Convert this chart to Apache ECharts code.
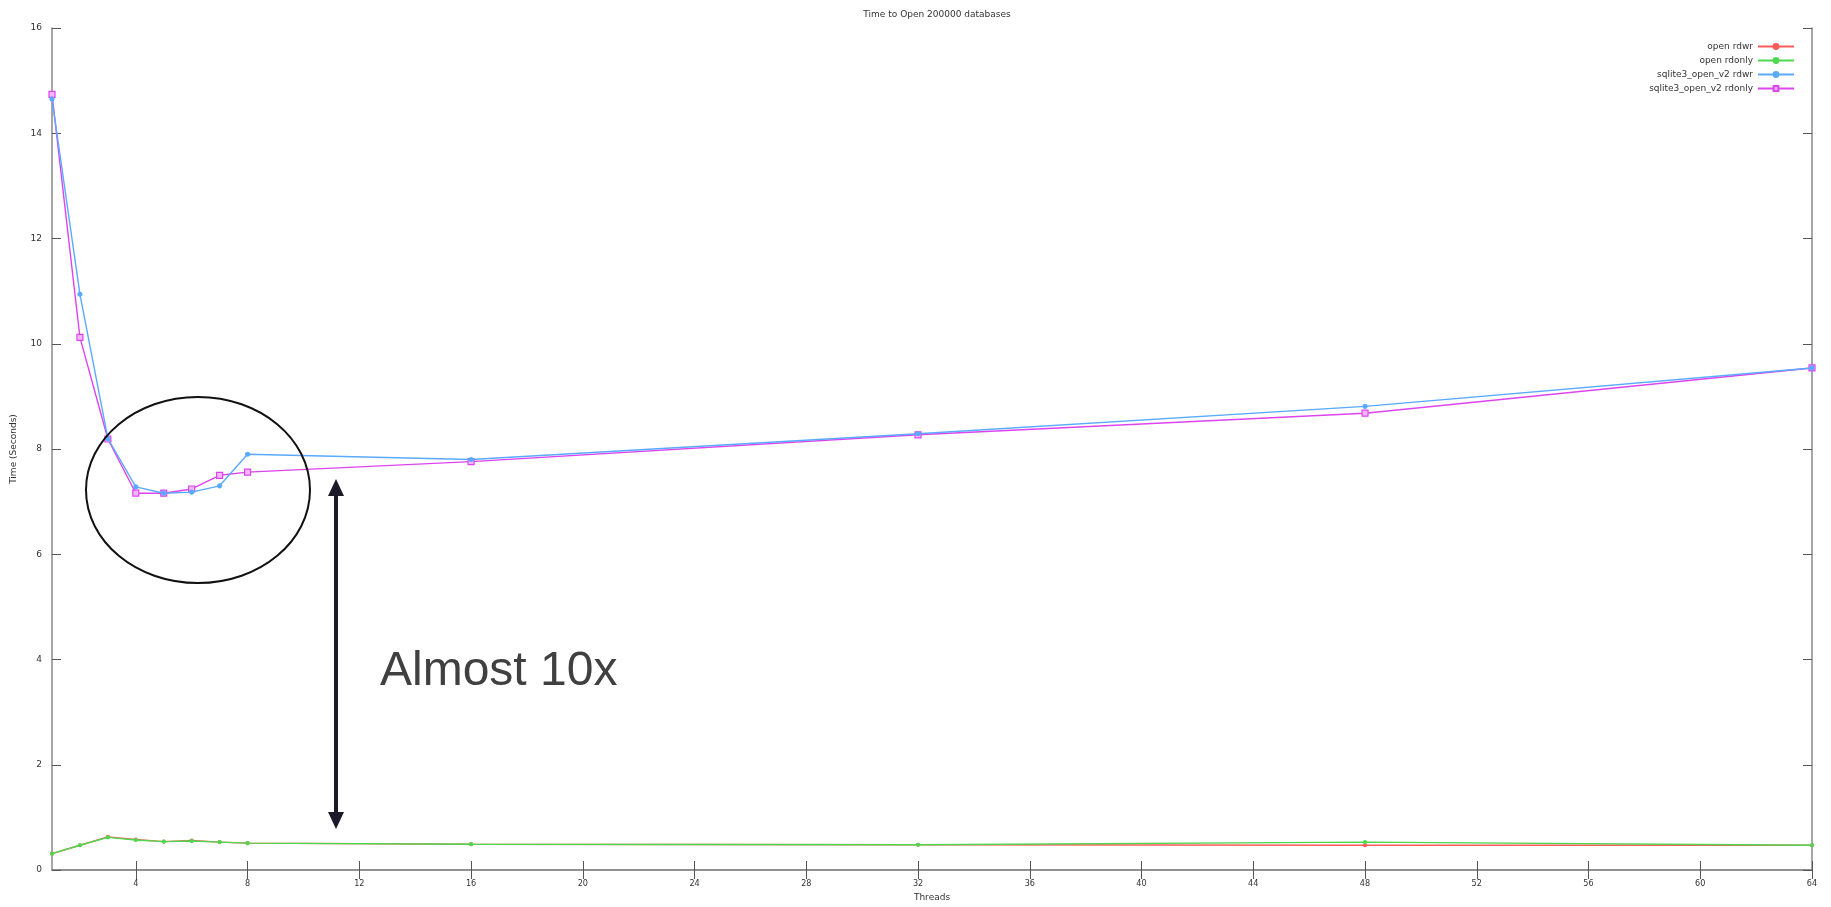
<!DOCTYPE html>
<html>
<head>
<meta charset="utf-8">
<script src="https://cdn.jsdelivr.net/npm/echarts@6/dist/echarts.min.js"></script>
<style>
html,body{margin:0;padding:0;background:#fff;}
#c{width:1831px;height:907px;}
</style>
</head>
<body>
<div id="c"></div>
<script>
// ---- data ----
const threads = [1, 2, 3, 4, 5, 6, 7, 8, 16, 32, 48, 64];
const openRdwr = [0.31, 0.47, 0.63, 0.58, 0.54, 0.56, 0.53, 0.51, 0.49, 0.48, 0.47, 0.47];
const openRdonly = [0.31, 0.47, 0.62, 0.57, 0.54, 0.55, 0.53, 0.51, 0.49, 0.48, 0.53, 0.47];
const sqliteRdwr = [14.65, 10.94, 8.20, 7.28, 7.16, 7.18, 7.30, 7.90, 7.80, 8.29, 8.81, 9.54];
const sqliteRdonly = [14.74, 10.12, 8.19, 7.16, 7.16, 7.24, 7.50, 7.56, 7.76, 8.27, 8.68, 9.54];
const xTicks = [4, 8, 12, 16, 20, 24, 28, 32, 36, 40, 44, 48, 52, 56, 60, 64];
const seriesNames = ['open rdwr', 'open rdonly', 'sqlite3_open_v2 rdwr', 'sqlite3_open_v2 rdonly'];
const titleText = 'Time to Open 200000 databases';
const xName = 'Threads';
const yName = 'Time (Seconds)';
const noteText = 'Almost 10x';

const pairs = (ys) => threads.map((t, i) => [t, ys[i]]);

const FONT = 'DejaVu Sans';
const axisGrey = '#8a8a8a';

const chart = echarts.init(document.getElementById('c'), null, {renderer: 'canvas'});

function mkSeries(name, ys, color, symbol, size, z, fill) {
  return {
    name: name, type: 'line', data: pairs(ys), xAxisIndex: 0, yAxisIndex: 0,
    symbol: symbol, symbolSize: size, showSymbol: true,
    lineStyle: {color: color, width: 1.4},
    itemStyle: {color: fill || color, borderColor: color, borderWidth: 1.2},
    emphasis: {disabled: true}, animation: false, z: z
  };
}

const option = {
  animation: false,
  backgroundColor: '#ffffff',
  title: {
    text: titleText, left: 932, top: 5, textAlign: 'center',
    textStyle: {fontFamily: FONT, fontSize: 9, fontWeight: 'normal', color: '#333'}
  },
  legend: {
    orient: 'vertical', right: 31, top: 37, align: 'right',
    itemWidth: 36, itemHeight: 6, itemGap: 5,
    textStyle: {fontFamily: FONT, fontSize: 9, color: '#333'},
    data: seriesNames
  },
  grid: {left: 52, right: 19, top: 28, bottom: 34, containLabel: false,
         show: false},
  xAxis: [{
    type: 'value', min: 1, max: 64, position: 'bottom',
    name: xName, nameLocation: 'middle', nameGap: 23,
    nameTextStyle: {fontFamily: FONT, fontSize: 9, color: '#333'},
    axisLine: {show: true, lineStyle: {color: axisGrey, width: 1.5}},
    axisTick: {show: true, inside: true, length: 9, customValues: xTicks, lineStyle: {color: '#555', width: 1}},
    axisLabel: {show: true, customValues: xTicks, fontFamily: 'DejaVu Sans Condensed, DejaVu Sans', fontSize: 9, color: '#333', margin: 9},
    splitLine: {show: false}
  }, {
    type: 'value', min: 1, max: 64, position: 'top',
    axisLine: {show: true, lineStyle: {color: axisGrey, width: 1.5}},
    axisTick: {show: true, inside: true, length: 9, customValues: xTicks, lineStyle: {color: '#555', width: 1}},
    axisLabel: {show: false},
    splitLine: {show: false}
  }],
  yAxis: [{
    type: 'value', min: 0, max: 16, interval: 2, position: 'left',
    name: yName, nameLocation: 'middle', nameGap: 34, nameRotate: 90,
    nameTextStyle: {fontFamily: FONT, fontSize: 9, color: '#333'},
    axisLine: {show: true, lineStyle: {color: axisGrey, width: 1.5}},
    axisTick: {show: true, inside: true, length: 9, lineStyle: {color: '#555', width: 1}},
    axisLabel: {show: true, fontFamily: FONT, fontSize: 9, color: '#333', margin: 10},
    splitLine: {show: false}
  }, {
    type: 'value', min: 0, max: 16, interval: 2, position: 'right',
    axisLine: {show: true, lineStyle: {color: axisGrey, width: 1.5}},
    axisTick: {show: true, inside: true, length: 9, lineStyle: {color: '#555', width: 1}},
    axisLabel: {show: false},
    splitLine: {show: false}
  }],
  series: [
    mkSeries(seriesNames[0], openRdwr, '#ff5a5a', 'circle', 3, 3),
    mkSeries(seriesNames[1], openRdonly, '#4fd84f', 'circle', 3, 4),
    mkSeries(seriesNames[2], sqliteRdwr, '#5aaaff', 'circle', 4, 5),
    mkSeries(seriesNames[3], sqliteRdonly, '#dd44f0', 'rect', 6, 4, '#f2b8fa')
  ],
  graphic: [
    {
      type: 'ellipse', z: 100,
      shape: {cx: 198, cy: 490, rx: 112, ry: 93},
      style: {fill: null, stroke: '#111', lineWidth: 2}
    },
    {
      type: 'rect', z: 100,
      shape: {x: 334, y: 494, width: 4, height: 320},
      style: {fill: '#1c1a2a'}
    },
    {
      type: 'polygon', z: 100,
      shape: {points: [[336, 479], [328, 496], [344, 496]]},
      style: {fill: '#1c1a2a'}
    },
    {
      type: 'polygon', z: 100,
      shape: {points: [[336, 829], [328, 812], [344, 812]]},
      style: {fill: '#1c1a2a'}
    },
    {
      type: 'text', z: 100, left: 380, top: 648,
      style: {text: noteText, font: '48px "Liberation Sans", Arial, sans-serif', fill: '#404040'}
    }
  ]
};
chart.setOption(option);
</script>
</body>
</html>
